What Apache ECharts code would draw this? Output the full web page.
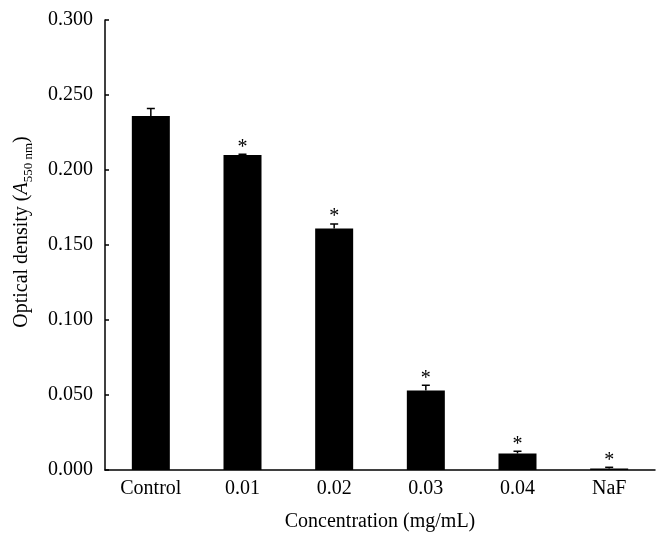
<!DOCTYPE html>
<html>
<head>
<meta charset="utf-8">
<script src="https://cdn.jsdelivr.net/npm/echarts@6/dist/echarts.min.js"></script>
<style>
  html, body { margin: 0; padding: 0; background: #fff; }
  #chart { width: 670px; height: 547px; }
</style>
</head>
<body>
<div id="chart"></div>
<script>
// 数据
const categories = ["Control", "0.01", "0.02", "0.03", "0.04", "NaF"];
const means = [0.236, 0.210, 0.161, 0.053, 0.011, 0.001];
const errors = [0.005, 0.0005, 0.003, 0.0035, 0.0015, 0.0008];
const significant = [false, true, true, true, true, true];
const yTicks = [0, 0.05, 0.1, 0.15, 0.2, 0.25, 0.3];

const font = "Liberation Serif";
const chart = echarts.init(document.getElementById("chart"));

chart.setOption({
  animation: false,
  textStyle: { fontFamily: font, color: "#000" },
  grid: { left: 105, right: 15, top: 20, bottom: 77, outerBoundsMode: "none" },
  xAxis: {
    type: "category",
    data: categories,
    name: "Concentration (mg/mL)",
    nameLocation: "middle",
    nameGap: 42,
    nameTextStyle: { fontFamily: font, fontSize: 20, color: "#000" },
    axisLine: { lineStyle: { color: "#000", width: 1.5 } },
    axisTick: { inside: true, length: 5, lineStyle: { color: "#000", width: 1.5 } },
    axisLabel: { fontFamily: font, fontSize: 20, color: "#000", margin: 9 },
  },
  yAxis: {
    type: "value",
    min: yTicks[0],
    max: yTicks[yTicks.length - 1],
    interval: 0.05,
    name: "{t|Optical density (}{a|A}{s|550 nm}{t|)}",
    nameLocation: "middle",
    nameRotate: 90,
    nameGap: 70,
    nameTextStyle: {
      padding: [0, 0, 0, 26],
      rich: {
        t: { fontFamily: font, fontSize: 20, color: "#000", lineHeight: 26, verticalAlign: "middle" },
        a: { fontFamily: font, fontSize: 20, color: "#000", fontStyle: "italic", lineHeight: 26, verticalAlign: "middle" },
        s: { fontFamily: font, fontSize: 13, color: "#000", lineHeight: 26, verticalAlign: "bottom" },
      },
    },
    axisLine: { show: true, lineStyle: { color: "#000", width: 1.5 } },
    axisTick: { show: true, inside: true, length: 4, lineStyle: { color: "#000", width: 1.5 } },
    axisLabel: {
      fontFamily: font,
      fontSize: 20,
      color: "#000",
      margin: 12,
      formatter: (v) => v.toFixed(3),
    },
    splitLine: { show: false },
  },
  series: [
    {
      type: "bar",
      data: means,
      barWidth: 38,
      itemStyle: { color: "#000" },
    },
    {
      // 误差线 + 星号
      type: "custom",
      data: means.map((m, i) => [i, m, errors[i], significant[i] ? 1 : 0]),
      renderItem: function (params, api) {
        const x = api.coord([api.value(0), 0])[0];
        const yMean = api.coord([api.value(0), api.value(1)])[1];
        const yTop = api.coord([api.value(0), api.value(1) + api.value(2)])[1];
        const children = [
          {
            type: "line",
            shape: { x1: x, y1: yMean, x2: x, y2: yTop },
            style: { stroke: "#000", lineWidth: 1.5 },
          },
          {
            type: "line",
            shape: { x1: x - 4, y1: yTop, x2: x + 4, y2: yTop },
            style: { stroke: "#000", lineWidth: 1.5 },
          },
        ];
        if (api.value(3)) {
          children.push({
            type: "text",
            style: {
              text: "*",
              x: x,
              y: yTop + 3,
              align: "center",
              verticalAlign: "bottom",
              fontFamily: font,
              fontSize: 20,
              fill: "#000",
            },
          });
        }
        return { type: "group", children: children };
      },
      z: 3,
    },
  ],
});
</script>
</body>
</html>
